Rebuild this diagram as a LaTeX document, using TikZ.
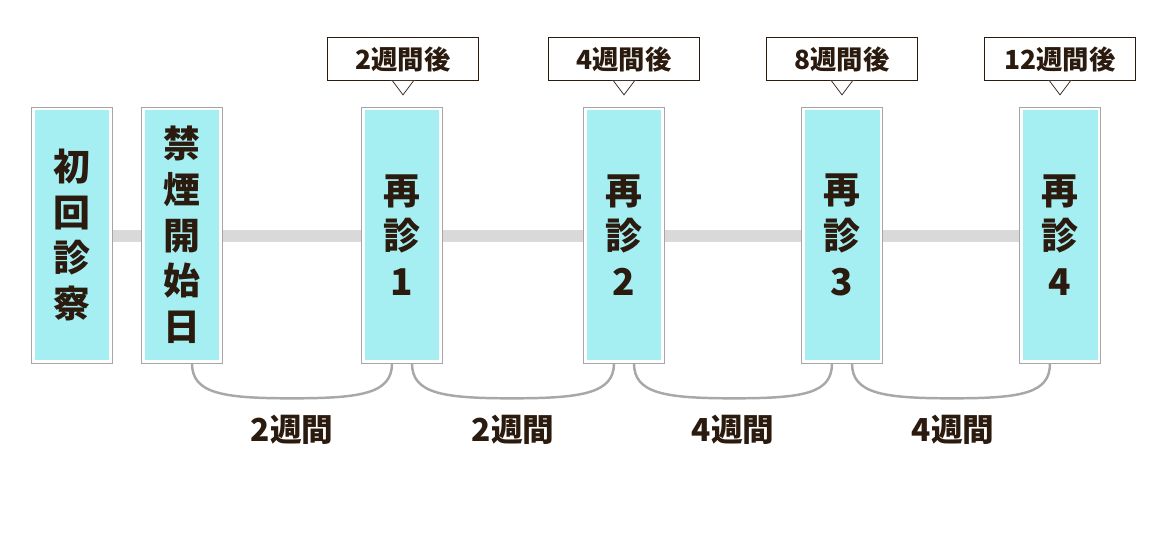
\documentclass[tikz,border=0pt]{standalone}
\usepackage{fontspec}
\setmainfont{Noto Sans CJK JP}
\usetikzlibrary{positioning}
\definecolor{ink}{HTML}{2B1A0E}
\definecolor{cyanfill}{HTML}{A5EEF2}
\definecolor{linegray}{HTML}{D9D9D9}
\definecolor{arcgray}{HTML}{A8A8A8}
\tikzset{
  visit/.style={draw=gray!70, fill=white, minimum width=1.62cm, minimum height=5.12cm, inner sep=0pt},
  inner/.style={fill=cyanfill, minimum width=1.5cm, minimum height=5cm, inner sep=0pt, align=center,
    text=ink, font=\fontsize{21}{26}\selectfont\bfseries},
  callout/.style={draw=ink, fill=white, minimum width=3.02cm, minimum height=0.86cm, inner sep=0pt,
    text=ink, font=\fontsize{15}{18}\selectfont\bfseries},
  span/.style={text=ink, font=\fontsize{18}{22}\selectfont\bfseries},
  arc/.style={draw=arcgray, line width=1.4pt}
}
\begin{document}
\begin{tikzpicture}[x=0.02cm,y=-0.02cm]
  \useasboundingbox (0,0) rectangle (1170,550);
  \draw[linegray, line width=2.4mm] (112,236) -- (1020,236);

  % visits
  \foreach \name/\cx/\txt in {v0/72/初\\回\\診\\察, v1/182/禁\\煙\\開\\始\\日,
      v2/402/再\\診\\1, v3/624/再\\診\\2, v4/842/再\\診\\3, v5/1060/再\\診\\4} {
    \node[visit] (\name) at (\cx,235) {};
    \node[inner] at (\name) {\txt};
  }

  % callouts
  \foreach \name/\cx/\txt in {c2/403/2週間後, c3/624/4週間後, c4/842/8週間後, c5/1060/12週間後} {
    \node[callout] (\name) at (\cx,59) {\txt};
    \fill[white] ([xshift=-7pt]\name.south) -- ([yshift=-8pt]\name.south) -- ([xshift=7pt]\name.south) -- cycle;
    \draw[ink] ([xshift=-6pt]\name.south) -- ([yshift=-8pt]\name.south) -- ([xshift=6pt]\name.south);
  }

  % intervals
  \foreach \a/\b/\cx/\txt in {v1/v2/292/2週間, v2/v3/513/2週間, v3/v4/733/4週間, v4/v5/953/4週間} {
    \draw[arc] ([xshift=0.2cm]\a.south) .. controls +(0,30) and +(-70,0) .. +(100,35)
      .. controls +(70,0) and +(0,30) .. ([xshift=-0.2cm]\b.south);
    \node[span] at (\cx,430) {\txt};
  }
\end{tikzpicture}
\end{document}
